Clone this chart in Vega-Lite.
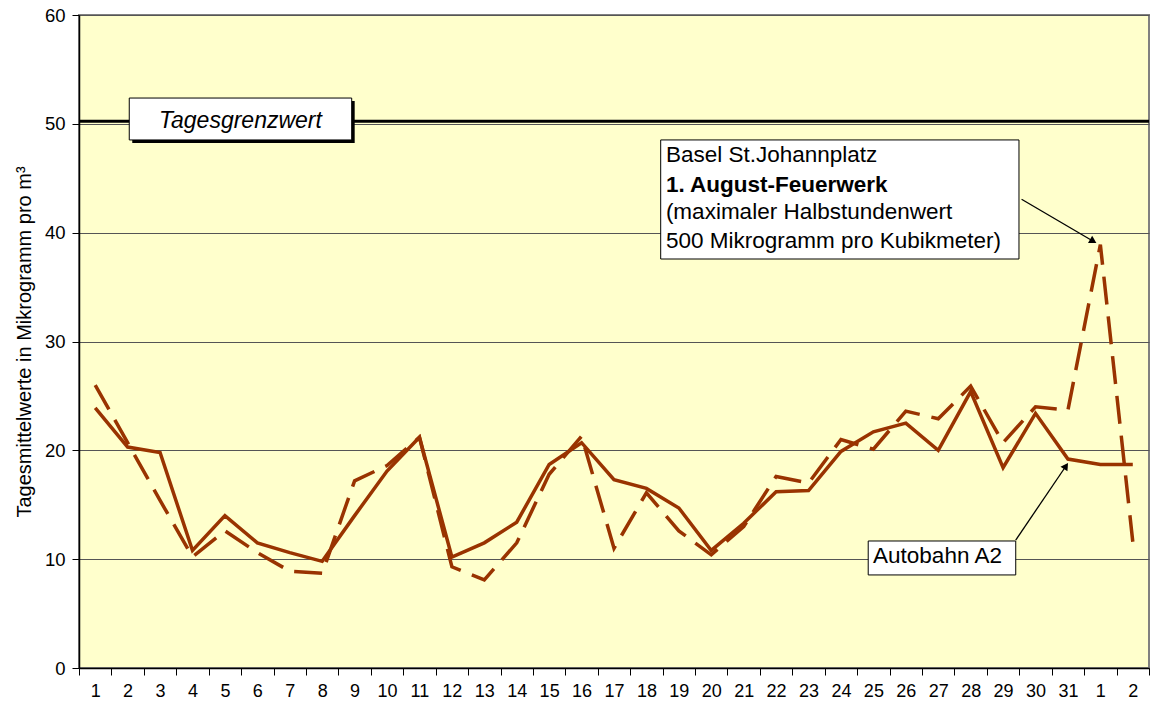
{
  "$schema": "https://vega.github.io/schema/vega-lite/v6.json",
  "width": 1070,
  "height": 653,
  "autosize": {"type": "none"},
  "padding": {"left": 79, "top": 15, "right": 3, "bottom": 41},
  "background": "white",
  "config": {
    "view": {"fill": "#FFFFCC", "stroke": "#808080", "strokeWidth": 2},
    "font": "Liberation Sans",
    "axisX": {
      "labelOffset": 16.2,
      "labelOverlap": false,
      "labelFlush": false,
      "labelBound": false,
      "grid": false,
      "tickSize": 7,
      "tickColor": "#000",
      "domainColor": "#000",
      "domainWidth": 1.5,
      "labelFontSize": 18,
      "labelColor": "#000",
      "labelPadding": 7
    },
    "axisY": {
      "grid": true,
      "gridColor": "#555555",
      "gridWidth": 1,
      "tickSize": 7,
      "tickColor": "#000",
      "domainColor": "#000",
      "domainWidth": 1.5,
      "labelFontSize": 18.5,
      "labelColor": "#000",
      "labelPadding": 7,
      "titleFontSize": 20,
      "titleFontWeight": "normal",
      "titleColor": "#000",
      "titlePadding": 10
    }
  },
  "datasets": {
    "days": [
      {"i": 1, "day": "1", "a2": 23.9, "basel": 26.0},
      {"i": 2, "day": "2", "a2": 20.3, "basel": 20.7},
      {"i": 3, "day": "3", "a2": 19.8, "basel": 15.4},
      {"i": 4, "day": "4", "a2": 10.8, "basel": 10.2},
      {"i": 5, "day": "5", "a2": 14.0, "basel": 12.6},
      {"i": 6, "day": "6", "a2": 11.5, "basel": 10.6},
      {"i": 7, "day": "7", "a2": 10.6, "basel": 8.9},
      {"i": 8, "day": "8", "a2": 9.8, "basel": 8.7},
      {"i": 9, "day": "9", "a2": 14.0, "basel": 17.2},
      {"i": 10, "day": "10", "a2": 18.1, "basel": 18.6},
      {"i": 11, "day": "11", "a2": 21.2, "basel": 21.2},
      {"i": 12, "day": "12", "a2": 10.2, "basel": 9.3},
      {"i": 13, "day": "13", "a2": 11.5, "basel": 8.1},
      {"i": 14, "day": "14", "a2": 13.4, "basel": 11.5},
      {"i": 15, "day": "15", "a2": 18.7, "basel": 17.8},
      {"i": 16, "day": "16", "a2": 20.7, "basel": 21.3},
      {"i": 17, "day": "17", "a2": 17.3, "basel": 11.0},
      {"i": 18, "day": "18", "a2": 16.5, "basel": 16.1},
      {"i": 19, "day": "19", "a2": 14.7, "basel": 12.6},
      {"i": 20, "day": "20", "a2": 10.8, "basel": 10.4},
      {"i": 21, "day": "21", "a2": 13.3, "basel": 13.0},
      {"i": 22, "day": "22", "a2": 16.2, "basel": 17.6},
      {"i": 23, "day": "23", "a2": 16.3, "basel": 17.0},
      {"i": 24, "day": "24", "a2": 19.9, "basel": 21.0},
      {"i": 25, "day": "25", "a2": 21.7, "basel": 20.1},
      {"i": 26, "day": "26", "a2": 22.5, "basel": 23.6},
      {"i": 27, "day": "27", "a2": 20.0, "basel": 22.9},
      {"i": 28, "day": "28", "a2": 25.4, "basel": 25.9},
      {"i": 29, "day": "29", "a2": 18.4, "basel": 20.7},
      {"i": 30, "day": "30", "a2": 23.4, "basel": 24.0},
      {"i": 31, "day": "31", "a2": 19.2, "basel": 23.7},
      {"i": 32, "day": "1", "a2": 18.7, "basel": 38.9},
      {"i": 33, "day": "2", "a2": 18.7, "basel": 11.6}
    ],
    "limit": [{"v": 50}],
    "shadow": [{"x0": 2.05, "x1": 8.91, "y0": 48.52, "y1": 52.37}],
    "boxes": [
      {"x0": 2.05, "x1": 8.91, "y0": 48.52, "y1": 52.37},
      {"x0": 18.44, "x1": 29.49, "y0": 37.58, "y1": 48.52},
      {"x0": 24.84, "x1": 29.39, "y0": 8.55, "y1": 11.67}
    ],
    "textsNormal": [
      {"x": 18.6, "y": 46.52, "t": "Basel St.Johannplatz"},
      {"x": 18.6, "y": 41.23, "t": "(maximaler Halbstundenwert"},
      {"x": 18.6, "y": 38.56, "t": "500 Mikrogramm pro Kubikmeter)"},
      {"x": 24.99, "y": 9.62, "t": "Autobahn A2"}
    ],
    "textsBold": [{"x": 18.6, "y": 43.77, "t": "1. August-Feuerwerk"}],
    "textsItalic": [{"x": 5.48, "y": 49.65, "t": "Tagesgrenzwert"}],
    "arrows": [
      {"x0": 29.57, "y0": 43.07, "x1": 31.78, "y1": 39.21},
      {"x0": 29.39, "y0": 11.76, "x1": 30.94, "y1": 18.56}
    ],
    "head1": [{"x": 31.78, "y": 39.21}],
    "head2": [{"x": 30.94, "y": 18.56}]
  },
  "layer": [
    {
      "data": {"name": "days"},
      "mark": {"type": "line", "color": "#993300", "strokeWidth": 3.5},
      "encoding": {
        "x": {"field": "i", "type": "quantitative",
          "scale": {"domain": [0.5, 33.5], "nice": false, "zero": false},
          "axis": {"title": null, "values": [0.5,1.5,2.5,3.5,4.5,5.5,6.5,7.5,8.5,9.5,10.5,11.5,12.5,13.5,14.5,15.5,16.5,17.5,18.5,19.5,20.5,21.5,22.5,23.5,24.5,25.5,26.5,27.5,28.5,29.5,30.5,31.5,32.5,33.5],
            "labelExpr": "datum.value > 33 ? '' : (datum.value < 31 ? format(datum.value + 0.5, 'd') : format(datum.value - 30.5, 'd'))"}},
        "y": {"field": "a2", "type": "quantitative",
          "scale": {"domain": [0, 60], "nice": false},
          "axis": {"title": "Tagesmittelwerte in Mikrogramm pro m³", "values": [0, 10, 20, 30, 40, 50, 60]}}
      }
    },
    {
      "data": {"name": "days"},
      "mark": {"type": "line", "color": "#993300", "strokeWidth": 3.5, "strokeDash": [28, 12]},
      "encoding": {
        "x": {"field": "i", "type": "quantitative",
          "scale": {"domain": [0.5, 33.5], "nice": false, "zero": false},
          "axis": {"title": null, "values": [0.5,1.5,2.5,3.5,4.5,5.5,6.5,7.5,8.5,9.5,10.5,11.5,12.5,13.5,14.5,15.5,16.5,17.5,18.5,19.5,20.5,21.5,22.5,23.5,24.5,25.5,26.5,27.5,28.5,29.5,30.5,31.5,32.5,33.5],
            "labelExpr": "datum.value > 33 ? '' : (datum.value < 31 ? format(datum.value + 0.5, 'd') : format(datum.value - 30.5, 'd'))"}},
        "y": {"field": "basel", "type": "quantitative",
          "scale": {"domain": [0, 60], "nice": false},
          "axis": {"title": "Tagesmittelwerte in Mikrogramm pro m³", "values": [0, 10, 20, 30, 40, 50, 60]}}
      }
    },
    {
      "data": {"name": "limit"},
      "mark": {"type": "rule", "color": "#000", "strokeWidth": 3, "yOffset": -2.7},
      "encoding": {
        "y": {"field": "v", "type": "quantitative",
          "scale": {"domain": [0, 60], "nice": false},
          "axis": {"title": "Tagesmittelwerte in Mikrogramm pro m³", "values": [0, 10, 20, 30, 40, 50, 60]}}
      }
    },
    {
      "data": {"name": "shadow"},
      "mark": {"type": "rect", "color": "#000", "xOffset": 3, "x2Offset": 3, "yOffset": 3, "y2Offset": 3},
      "encoding": {
        "x": {"field": "x0", "type": "quantitative",
          "scale": {"domain": [0.5, 33.5], "nice": false, "zero": false},
          "axis": {"title": null, "values": [0.5,1.5,2.5,3.5,4.5,5.5,6.5,7.5,8.5,9.5,10.5,11.5,12.5,13.5,14.5,15.5,16.5,17.5,18.5,19.5,20.5,21.5,22.5,23.5,24.5,25.5,26.5,27.5,28.5,29.5,30.5,31.5,32.5,33.5],
            "labelExpr": "datum.value > 33 ? '' : (datum.value < 31 ? format(datum.value + 0.5, 'd') : format(datum.value - 30.5, 'd'))"}},
        "x2": {"field": "x1"},
        "y": {"field": "y0", "type": "quantitative",
          "scale": {"domain": [0, 60], "nice": false},
          "axis": {"title": "Tagesmittelwerte in Mikrogramm pro m³", "values": [0, 10, 20, 30, 40, 50, 60]}},
        "y2": {"field": "y1"}
      }
    },
    {
      "data": {"name": "boxes"},
      "mark": {"type": "rect", "fill": "#FFFFFF", "stroke": "#000", "strokeWidth": 1},
      "encoding": {
        "x": {"field": "x0", "type": "quantitative",
          "scale": {"domain": [0.5, 33.5], "nice": false, "zero": false},
          "axis": {"title": null, "values": [0.5,1.5,2.5,3.5,4.5,5.5,6.5,7.5,8.5,9.5,10.5,11.5,12.5,13.5,14.5,15.5,16.5,17.5,18.5,19.5,20.5,21.5,22.5,23.5,24.5,25.5,26.5,27.5,28.5,29.5,30.5,31.5,32.5,33.5],
            "labelExpr": "datum.value > 33 ? '' : (datum.value < 31 ? format(datum.value + 0.5, 'd') : format(datum.value - 30.5, 'd'))"}},
        "x2": {"field": "x1"},
        "y": {"field": "y0", "type": "quantitative",
          "scale": {"domain": [0, 60], "nice": false},
          "axis": {"title": "Tagesmittelwerte in Mikrogramm pro m³", "values": [0, 10, 20, 30, 40, 50, 60]}},
        "y2": {"field": "y1"}
      }
    },
    {
      "data": {"name": "textsNormal"},
      "mark": {"type": "text", "align": "left", "baseline": "alphabetic", "fontSize": 22.5, "color": "#000", "font": "Liberation Sans"},
      "encoding": {
        "x": {"field": "x", "type": "quantitative",
          "scale": {"domain": [0.5, 33.5], "nice": false, "zero": false},
          "axis": {"title": null, "values": [0.5,1.5,2.5,3.5,4.5,5.5,6.5,7.5,8.5,9.5,10.5,11.5,12.5,13.5,14.5,15.5,16.5,17.5,18.5,19.5,20.5,21.5,22.5,23.5,24.5,25.5,26.5,27.5,28.5,29.5,30.5,31.5,32.5,33.5],
            "labelExpr": "datum.value > 33 ? '' : (datum.value < 31 ? format(datum.value + 0.5, 'd') : format(datum.value - 30.5, 'd'))"}},
        "y": {"field": "y", "type": "quantitative",
          "scale": {"domain": [0, 60], "nice": false},
          "axis": {"title": "Tagesmittelwerte in Mikrogramm pro m³", "values": [0, 10, 20, 30, 40, 50, 60]}},
        "text": {"field": "t"}
      }
    },
    {
      "data": {"name": "textsBold"},
      "mark": {"type": "text", "align": "left", "baseline": "alphabetic", "fontSize": 22.5, "fontWeight": "bold", "color": "#000", "font": "Liberation Sans"},
      "encoding": {
        "x": {"field": "x", "type": "quantitative",
          "scale": {"domain": [0.5, 33.5], "nice": false, "zero": false},
          "axis": {"title": null, "values": [0.5,1.5,2.5,3.5,4.5,5.5,6.5,7.5,8.5,9.5,10.5,11.5,12.5,13.5,14.5,15.5,16.5,17.5,18.5,19.5,20.5,21.5,22.5,23.5,24.5,25.5,26.5,27.5,28.5,29.5,30.5,31.5,32.5,33.5],
            "labelExpr": "datum.value > 33 ? '' : (datum.value < 31 ? format(datum.value + 0.5, 'd') : format(datum.value - 30.5, 'd'))"}},
        "y": {"field": "y", "type": "quantitative",
          "scale": {"domain": [0, 60], "nice": false},
          "axis": {"title": "Tagesmittelwerte in Mikrogramm pro m³", "values": [0, 10, 20, 30, 40, 50, 60]}},
        "text": {"field": "t"}
      }
    },
    {
      "data": {"name": "textsItalic"},
      "mark": {"type": "text", "align": "center", "baseline": "alphabetic", "fontSize": 23, "fontStyle": "italic", "color": "#000", "font": "Liberation Sans"},
      "encoding": {
        "x": {"field": "x", "type": "quantitative",
          "scale": {"domain": [0.5, 33.5], "nice": false, "zero": false},
          "axis": {"title": null, "values": [0.5,1.5,2.5,3.5,4.5,5.5,6.5,7.5,8.5,9.5,10.5,11.5,12.5,13.5,14.5,15.5,16.5,17.5,18.5,19.5,20.5,21.5,22.5,23.5,24.5,25.5,26.5,27.5,28.5,29.5,30.5,31.5,32.5,33.5],
            "labelExpr": "datum.value > 33 ? '' : (datum.value < 31 ? format(datum.value + 0.5, 'd') : format(datum.value - 30.5, 'd'))"}},
        "y": {"field": "y", "type": "quantitative",
          "scale": {"domain": [0, 60], "nice": false},
          "axis": {"title": "Tagesmittelwerte in Mikrogramm pro m³", "values": [0, 10, 20, 30, 40, 50, 60]}},
        "text": {"field": "t"}
      }
    },
    {
      "data": {"name": "arrows"},
      "mark": {"type": "rule", "color": "#000", "strokeWidth": 1.3},
      "encoding": {
        "x": {"field": "x0", "type": "quantitative",
          "scale": {"domain": [0.5, 33.5], "nice": false, "zero": false},
          "axis": {"title": null, "values": [0.5,1.5,2.5,3.5,4.5,5.5,6.5,7.5,8.5,9.5,10.5,11.5,12.5,13.5,14.5,15.5,16.5,17.5,18.5,19.5,20.5,21.5,22.5,23.5,24.5,25.5,26.5,27.5,28.5,29.5,30.5,31.5,32.5,33.5],
            "labelExpr": "datum.value > 33 ? '' : (datum.value < 31 ? format(datum.value + 0.5, 'd') : format(datum.value - 30.5, 'd'))"}},
        "x2": {"field": "x1"},
        "y": {"field": "y0", "type": "quantitative",
          "scale": {"domain": [0, 60], "nice": false},
          "axis": {"title": "Tagesmittelwerte in Mikrogramm pro m³", "values": [0, 10, 20, 30, 40, 50, 60]}},
        "y2": {"field": "y1"}
      }
    },
    {
      "data": {"name": "head1"},
      "mark": {"type": "point", "shape": "triangle-up", "filled": true, "color": "#000", "size": 70, "angle": 120, "opacity": 1},
      "encoding": {
        "x": {"field": "x", "type": "quantitative",
          "scale": {"domain": [0.5, 33.5], "nice": false, "zero": false},
          "axis": {"title": null, "values": [0.5,1.5,2.5,3.5,4.5,5.5,6.5,7.5,8.5,9.5,10.5,11.5,12.5,13.5,14.5,15.5,16.5,17.5,18.5,19.5,20.5,21.5,22.5,23.5,24.5,25.5,26.5,27.5,28.5,29.5,30.5,31.5,32.5,33.5],
            "labelExpr": "datum.value > 33 ? '' : (datum.value < 31 ? format(datum.value + 0.5, 'd') : format(datum.value - 30.5, 'd'))"}},
        "y": {"field": "y", "type": "quantitative",
          "scale": {"domain": [0, 60], "nice": false},
          "axis": {"title": "Tagesmittelwerte in Mikrogramm pro m³", "values": [0, 10, 20, 30, 40, 50, 60]}}
      }
    },
    {
      "data": {"name": "head2"},
      "mark": {"type": "point", "shape": "triangle-up", "filled": true, "color": "#000", "size": 70, "angle": 34, "opacity": 1},
      "encoding": {
        "x": {"field": "x", "type": "quantitative",
          "scale": {"domain": [0.5, 33.5], "nice": false, "zero": false},
          "axis": {"title": null, "values": [0.5,1.5,2.5,3.5,4.5,5.5,6.5,7.5,8.5,9.5,10.5,11.5,12.5,13.5,14.5,15.5,16.5,17.5,18.5,19.5,20.5,21.5,22.5,23.5,24.5,25.5,26.5,27.5,28.5,29.5,30.5,31.5,32.5,33.5],
            "labelExpr": "datum.value > 33 ? '' : (datum.value < 31 ? format(datum.value + 0.5, 'd') : format(datum.value - 30.5, 'd'))"}},
        "y": {"field": "y", "type": "quantitative",
          "scale": {"domain": [0, 60], "nice": false},
          "axis": {"title": "Tagesmittelwerte in Mikrogramm pro m³", "values": [0, 10, 20, 30, 40, 50, 60]}}
      }
    }
  ]
}
